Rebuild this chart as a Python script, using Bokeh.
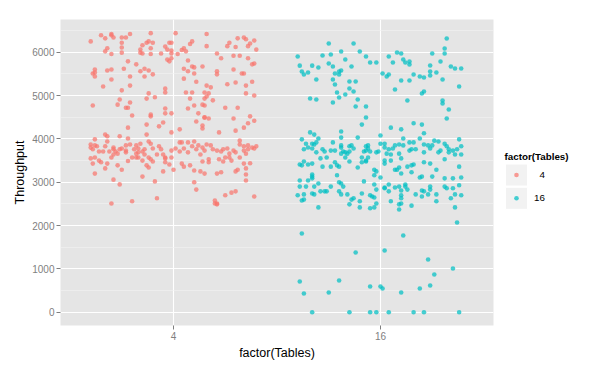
from bokeh.plotting import figure
from bokeh.models import FixedTicker, Range1d
from bokeh.layouts import row
from bokeh.embed import file_html
from bokeh.resources import INLINE
from bokeh.core.properties import value

# ---------------- data ----------------
TABLES = ["4", "16"]
COLORS = ["#F8766D", "#00BFC4"]
Y_TICKS = [0, 1000, 2000, 3000, 4000, 5000, 6000]
Y_MINOR = [500, 1500, 2500, 3500, 4500, 5500, 6500]

# (horizontal jitter within category, Throughput)
points_4 = [
    (-0.40, 6250), (-0.35, 6390), (-0.33, 6320), (-0.30, 6390), (-0.30, 6420), (-0.29, 6340),
    (-0.25, 6340), (-0.23, 6340), (-0.21, 6420), (-0.11, 6440), (-0.25, 6220), (-0.32, 6090),
    (-0.33, 6020), (-0.30, 5960), (-0.25, 5990), (-0.25, 6110), (-0.15, 6160), (-0.16, 6060),
    (-0.16, 5990), (-0.15, 5970), (-0.13, 6220), (-0.10, 6220), (-0.12, 6250), (-0.11, 6090),
    (-0.11, 5960), (-0.06, 5970), (-0.04, 6130), (-0.02, 6220), (-0.01, 6220), (-0.03, 6060),
    (-0.01, 6040), (-0.01, 5970), (-0.01, 5860), (-0.03, 5830), (-0.02, 5790), (0.01, 6440),
    (0.16, 6420), (0.09, 6250), (0.08, 6190), (0.05, 6090), (0.04, 6050), (0.06, 6020),
    (0.02, 5960), (0.07, 5810), (0.16, 6140), (0.21, 5970), (0.23, 5860), (0.26, 6140),
    (0.27, 6220), (0.30, 6120), (0.31, 6320), (0.34, 6340), (0.35, 6300), (0.37, 6200),
    (0.36, 6140), (0.39, 6270), (0.40, 6060), (0.29, 5920), (0.32, 5920), (0.36, 5860),
    (0.39, 5740), (0.38, 5720), (-0.22, 5790), (-0.18, 5720), (-0.24, 5620), (-0.30, 5600),
    (-0.32, 5580), (-0.38, 5600), (-0.38, 5530), (-0.39, 5510), (-0.38, 5440), (-0.30, 5370),
    (-0.21, 5440), (-0.16, 5560), (-0.14, 5620), (-0.12, 5580), (-0.14, 5440), (-0.10, 5490),
    (-0.34, 5210), (-0.25, 5120), (-0.21, 5230), (-0.12, 5050), (-0.13, 4930), (-0.09, 4960),
    (-0.04, 5160), (-0.04, 5070), (-0.26, 4910), (-0.27, 4790), (-0.21, 4840), (-0.23, 4720),
    (-0.22, 4720), (-0.39, 4770), (-0.20, 4540), (-0.11, 4560), (-0.11, 4520), (-0.04, 4700),
    (-0.04, 4590), (-0.01, 4590), (0.05, 5620), (0.07, 5560), (0.09, 5670), (0.10, 5650),
    (0.10, 5510), (0.14, 5670), (0.05, 5390), (0.11, 5320), (0.21, 5560), (0.21, 5490),
    (0.29, 5600), (0.33, 5510), (0.34, 5510), (0.30, 5300), (0.26, 5260), (0.35, 5230),
    (0.38, 5320), (0.16, 5230), (0.18, 5190), (0.15, 5070), (0.17, 5050), (0.06, 5070),
    (0.09, 5070), (0.08, 4930), (0.15, 4930), (0.16, 4980), (0.19, 4890), (0.10, 4770),
    (0.15, 4770), (0.14, 4790), (0.07, 4700), (0.12, 4590), (0.15, 4490), (0.15, 4500),
    (0.17, 4470), (0.25, 4720), (0.31, 4720), (0.35, 5050), (0.39, 5000), (0.37, 4520),
    (0.29, 4470),
    (-0.22, 4260), (-0.13, 4330), (-0.05, 4380), (-0.07, 4290), (-0.01, 4150), (0.03, 4220),
    (0.11, 4400), (0.14, 4310), (0.14, 4240), (0.22, 4150), (0.30, 4190), (0.34, 4260),
    (0.36, 4360), (0.39, 4420), (-0.33, 4100), (-0.32, 4060), (-0.26, 4060), (-0.22, 4010),
    (-0.13, 4100), (-0.38, 3990), (-0.32, 3940), (0.32, 3960),
    (-0.40, 3870), (-0.40, 3800), (-0.38, 3850), (-0.37, 3830), (-0.39, 3760), (-0.36, 3710),
    (-0.34, 3710), (-0.33, 3830), (-0.31, 3710), (-0.29, 3760), (-0.29, 3800), (-0.28, 3710),
    (-0.29, 3640), (-0.26, 3760), (-0.25, 3780), (-0.27, 3660), (-0.23, 3850), (-0.23, 3730),
    (-0.21, 3870), (-0.23, 3690), (-0.19, 3760), (-0.18, 3850), (-0.17, 3780), (-0.16, 3890),
    (-0.15, 3710), (-0.17, 3690), (-0.14, 3760), (-0.12, 3940), (-0.11, 3890), (-0.10, 3780),
    (-0.14, 3640), (-0.17, 3570), (-0.20, 3570), (-0.18, 3660), (-0.08, 3640), (-0.07, 3830),
    (-0.06, 3760), (-0.05, 3640), (-0.04, 3570), (-0.01, 3730), (0.01, 3780), (0.03, 3920),
    (0.04, 3920), (0.03, 3710), (0.05, 3780), (0.07, 3920), (0.07, 3690), (0.09, 3830),
    (0.10, 3940), (0.11, 3760), (0.12, 3850), (0.14, 3800), (0.15, 3730), (0.13, 3640),
    (0.16, 3870), (0.18, 3850), (0.19, 3760), (0.21, 3730), (0.23, 3710), (0.24, 3760),
    (0.26, 3780), (0.27, 3660), (0.25, 3570), (0.29, 3730), (0.30, 3690), (0.32, 3870),
    (0.34, 3830), (0.35, 3660), (0.36, 3850), (0.38, 3800), (0.39, 3780), (0.36, 3760),
    (0.34, 3730), (0.40, 3830),
    (-0.40, 3550), (-0.39, 3430), (-0.38, 3570), (-0.36, 3500), (-0.35, 3460), (-0.33, 3320),
    (-0.32, 3430), (-0.30, 3570), (-0.27, 3390), (-0.25, 3290), (-0.22, 3490), (-0.18, 3570),
    (-0.15, 3500), (-0.13, 3390), (-0.12, 3340), (-0.11, 3530), (-0.10, 3480), (-0.12, 3570),
    (-0.04, 3550), (-0.04, 3460), (-0.02, 3410), (0.00, 3290), (-0.05, 3250), (-0.01, 3570),
    (0.04, 3430), (0.05, 3360), (0.08, 3390), (0.10, 3270), (0.14, 3480), (0.13, 3250),
    (0.15, 3200), (0.17, 3530), (0.17, 3460), (0.21, 3200), (0.23, 3230), (0.22, 3530),
    (0.24, 3480), (0.27, 3570), (0.28, 3500), (0.30, 3250), (0.31, 3290), (0.32, 3570),
    (0.34, 3430), (0.35, 3320), (0.37, 3440), (0.35, 3180), (0.35, 3040), (-0.38, 3200),
    (-0.29, 3060), (-0.26, 2950), (-0.15, 3130), (-0.09, 3020), (0.10, 3000), (0.11, 2830),
    (-0.20, 2560), (-0.30, 2510), (-0.08, 2630), (0.25, 2700), (0.28, 2760), (0.30, 2790),
    (0.20, 2580), (0.21, 2510), (0.20, 2510), (0.21, 2490), (0.39, 2670),
]

points_16 = [
    (-0.40, 5900), (-0.39, 5690), (-0.38, 5555), (-0.37, 5486), (-0.35, 5532), (-0.33, 5690),
    (-0.31, 5370), (-0.30, 5648), (-0.28, 5924), (-0.25, 6201), (-0.24, 5947), (-0.25, 5740),
    (-0.23, 5670), (-0.22, 5509), (-0.20, 5555), (-0.20, 5486), (-0.19, 5578), (-0.19, 6017),
    (-0.17, 5832), (-0.23, 5370), (-0.22, 5255), (-0.21, 5071), (-0.20, 4955), (-0.23, 4840),
    (-0.34, 4932), (-0.31, 4909), (-0.17, 5025), (-0.15, 5324), (-0.15, 5163), (-0.13, 5094),
    (-0.12, 5324), (-0.14, 5670), (-0.13, 6201), (-0.10, 6017), (-0.07, 5900), (-0.05, 5763),
    (-0.02, 5763), (-0.11, 4909), (-0.12, 4748), (-0.07, 4748), (-0.07, 4494), (0.01, 5509),
    (0.03, 5440), (0.04, 5486), (0.04, 5900), (0.06, 5763), (0.07, 5140), (0.08, 5993),
    (0.10, 5970), (0.11, 5832), (0.12, 5763), (0.14, 5786), (0.14, 5716), (0.10, 5347),
    (0.14, 5347), (0.16, 5486), (0.13, 4886), (0.19, 5440), (0.21, 5417), (0.20, 5047),
    (0.21, 5094), (0.24, 5555), (0.24, 5694), (0.24, 5463), (0.27, 5532), (0.25, 5970),
    (0.29, 5786), (0.30, 5370), (0.31, 5970), (0.31, 6086), (0.32, 6317), (0.34, 5670),
    (0.36, 5624), (0.39, 5624), (0.38, 5209), (0.30, 4886), (0.30, 4817), (0.33, 4678),
    (0.32, 4470),
    (-0.09, 4330), (-0.34, 4150), (-0.32, 4100), (-0.30, 4010), (-0.19, 4170), (-0.19, 4030),
    (-0.11, 4030), (0.05, 4260), (0.10, 4220), (0.16, 4360), (0.20, 4330), (0.21, 4130),
    (0.00, 4080),
    (-0.38, 3990), (-0.36, 3890), (-0.37, 3760), (-0.35, 3800), (-0.33, 3890), (-0.32, 3870),
    (-0.31, 3920), (-0.33, 3780), (-0.31, 3690), (-0.28, 3760), (-0.27, 3710), (-0.23, 3920),
    (-0.24, 3730), (-0.22, 3730), (-0.19, 3850), (-0.19, 3800), (-0.18, 3710), (-0.17, 3690),
    (-0.15, 3830), (-0.14, 3850), (-0.13, 3780), (-0.15, 3710), (-0.16, 3660), (-0.17, 3570),
    (-0.19, 3660), (-0.05, 3710), (-0.07, 3830), (-0.06, 3780), (-0.07, 3730), (-0.08, 3710),
    (-0.06, 3850), (-0.09, 3570), (-0.02, 3690), (-0.01, 3710), (0.00, 3890), (0.02, 3800),
    (0.02, 3890), (0.03, 3660), (0.05, 3640), (0.04, 3760), (0.06, 3780), (0.07, 3850),
    (0.09, 3660), (0.09, 3870), (0.11, 4010), (0.11, 3850), (0.14, 3920), (0.14, 3730),
    (0.15, 3760), (0.16, 3920), (0.17, 3760), (0.19, 4010), (0.21, 3870), (0.21, 3690),
    (0.23, 3850), (0.24, 3780), (0.25, 3850), (0.26, 3960), (0.28, 3940), (0.28, 3690),
    (0.29, 3730), (0.31, 3890), (0.32, 3830), (0.33, 3760), (0.33, 3690), (0.35, 3730),
    (0.36, 3640), (0.37, 3760), (0.38, 3990), (0.39, 3830), (0.39, 3640), (0.31, 3530),
    (-0.29, 3550), (-0.26, 3570), (-0.22, 3460), (-0.20, 3360), (-0.15, 3480), (-0.11, 3340),
    (-0.09, 3460), (-0.07, 3500), (-0.06, 3570), (-0.03, 3290), (-0.02, 3250), (0.02, 3500),
    (0.02, 3430), (0.05, 3500), (0.07, 3290), (0.08, 3290), (0.09, 3340), (0.10, 3200),
    (0.10, 3550), (0.13, 3360), (0.15, 3390), (0.16, 3410), (0.15, 3230), (0.21, 3460),
    (0.24, 3430), (0.27, 3290), (0.38, 3360), (-0.37, 3480), (-0.39, 3410), (-0.38, 3390),
    (-0.35, 3410), (-0.33, 3430), (-0.28, 3360), (-0.24, 3360), (-0.21, 3390), (-0.07, 3480),
    (-0.33, 3180), (-0.33, 3130), (-0.35, 3040), (-0.33, 3090), (-0.39, 3040), (-0.39, 2900),
    (-0.36, 2900), (-0.32, 2900), (-0.30, 2970), (-0.27, 2790), (-0.24, 2900), (-0.26, 2790),
    (-0.20, 3000), (-0.19, 2970), (-0.20, 2790), (-0.21, 3160), (-0.18, 2900), (-0.19, 2720),
    (-0.16, 2720), (-0.15, 2490), (-0.14, 2600), (-0.13, 2630), (-0.09, 2740), (-0.08, 3020),
    (-0.10, 2560), (-0.40, 2700), (-0.38, 2580), (-0.37, 2600), (-0.37, 2720), (-0.33, 2740),
    (-0.32, 2720), (-0.29, 2790), (-0.30, 2420), (-0.05, 2700), (-0.04, 2670), (-0.03, 2650),
    (-0.02, 2830), (-0.03, 2950), (-0.03, 3160), (0.00, 3110), (0.02, 2880), (0.02, 2860),
    (0.04, 2950), (0.04, 2790), (0.05, 2560), (0.07, 2880), (0.09, 2900), (0.10, 2810),
    (0.10, 2700), (0.10, 2630), (0.09, 2490), (0.09, 2370), (0.10, 2510), (0.12, 2950),
    (0.12, 2900), (0.13, 2830), (0.15, 2460), (0.17, 2720), (0.19, 3110), (0.20, 3130),
    (0.20, 2810), (0.21, 2790), (0.20, 2670), (0.23, 2720), (0.24, 2900), (0.24, 2830),
    (0.25, 3130), (0.27, 2720), (0.27, 2560), (0.31, 3090), (0.31, 2900), (0.32, 2860),
    (0.35, 3090), (0.35, 2860), (0.34, 2630), (0.36, 2720), (0.38, 2930), (0.39, 2700),
    (0.39, 3110), (0.36, 2420), (-0.10, 2420), (-0.05, 2400), (-0.03, 2420), (-0.02, 2510),
    (0.37, 2070), (-0.38, 1817), (0.11, 1770), (-0.12, 1378), (0.02, 1424), (0.23, 1217),
    (0.35, 1009), (0.26, 871), (-0.39, 709), (-0.20, 732), (-0.05, 594), (0.00, 594),
    (0.01, 548), (0.24, 617), (0.19, 548), (-0.37, 432), (-0.25, 455), (0.10, 455),
    (-0.33, 0), (-0.15, 0), (-0.05, 0), (-0.02, 0), (0.04, 0), (0.16, 0), (0.21, 0), (0.38, 0),
]

GROUP_POINTS = [points_4, points_16]

# ---------------- styling ----------------
FONT = "Liberation Sans"
TICK_GREY = "#7F7F7F"
PT_SIZE = 4.6
PT_ALPHA = 0.72

p = figure(width=498, height=362, output_backend="svg", toolbar_location=None,
           x_range=Range1d(0.454, 2.546), y_range=Range1d(-305, 6755),
           min_border_left=60, min_border_right=5, min_border_top=19, min_border_bottom=37)
p.background_fill_color = "#E5E5E5"
p.border_fill_color = "white"
p.outline_line_color = None

for i, pts in enumerate(GROUP_POINTS):
    xs = [i + 1 + j for j, _ in pts]
    ys = [t for _, t in pts]
    p.scatter(xs, ys, size=PT_SIZE, fill_color=COLORS[i], fill_alpha=PT_ALPHA, line_color=None)

p.xaxis.ticker = FixedTicker(ticks=[1, 2])
p.xaxis.major_label_overrides = {1: TABLES[0], 2: TABLES[1]}
p.xaxis.axis_label = "factor(Tables)"
p.yaxis.ticker = FixedTicker(ticks=Y_TICKS, minor_ticks=Y_MINOR)
p.yaxis.axis_label = "Throughput"

for ax in (p.xaxis, p.yaxis):
    ax.axis_line_color = None
    ax.major_tick_line_color = TICK_GREY
    ax.major_tick_out = 4
    ax.major_tick_in = 0
    ax.minor_tick_out = 0
    ax.minor_tick_in = 0
    ax.major_label_text_color = TICK_GREY
    ax.major_label_text_font = FONT
    ax.major_label_text_font_size = "10px"
    ax.major_label_standoff = 2
    ax.axis_label_text_font = FONT
    ax.axis_label_text_font_size = "12.5px"
    ax.axis_label_text_font_style = "normal"
    ax.axis_label_text_color = "black"
p.xaxis.axis_label_standoff = 3
p.yaxis.axis_label_standoff = 2

p.xgrid.grid_line_color = "white"
p.xgrid.grid_line_width = 1.1
p.ygrid.grid_line_color = "white"
p.ygrid.grid_line_width = 1.1
p.ygrid.minor_grid_line_color = "#F2F2F2"
p.ygrid.minor_grid_line_width = 0.6

# ---------------- legend panel (frame aligned with the main panel: 19..325) ----------------
q = figure(width=94, height=362, output_backend="svg", toolbar_location=None,
           x_range=Range1d(0, 94), y_range=Range1d(325, 19),
           x_axis_type=None, y_axis_type=None,
           min_border_left=0, min_border_right=0, min_border_top=19, min_border_bottom=37)
q.outline_line_color = None
q.xgrid.visible = False
q.ygrid.visible = False
q.background_fill_color = "white"

key_y = [174.5, 197.8]
q.rect(x=[18, 18], y=key_y, width=22, height=22, fill_color="#F2F2F2", line_color="white",
       line_width=1)
for i in range(2):
    q.scatter([18], [key_y[i]], size=PT_SIZE, fill_color=COLORS[i], fill_alpha=PT_ALPHA,
              line_color=None)
q.text(x=[6], y=[156], text=["factor(Tables)"], text_font=value(FONT), text_font_style="bold",
       text_font_size="9.8px", text_baseline="middle", text_align="left", text_color="black")
q.text(x=[46.5, 46.5], y=key_y, text=TABLES, text_font=value(FONT),
       text_font_size="9.8px", text_baseline="middle", text_align="right", text_color="black")

layout = row(p, q, spacing=0)
open("out.html", "w").write(file_html(layout, INLINE))
